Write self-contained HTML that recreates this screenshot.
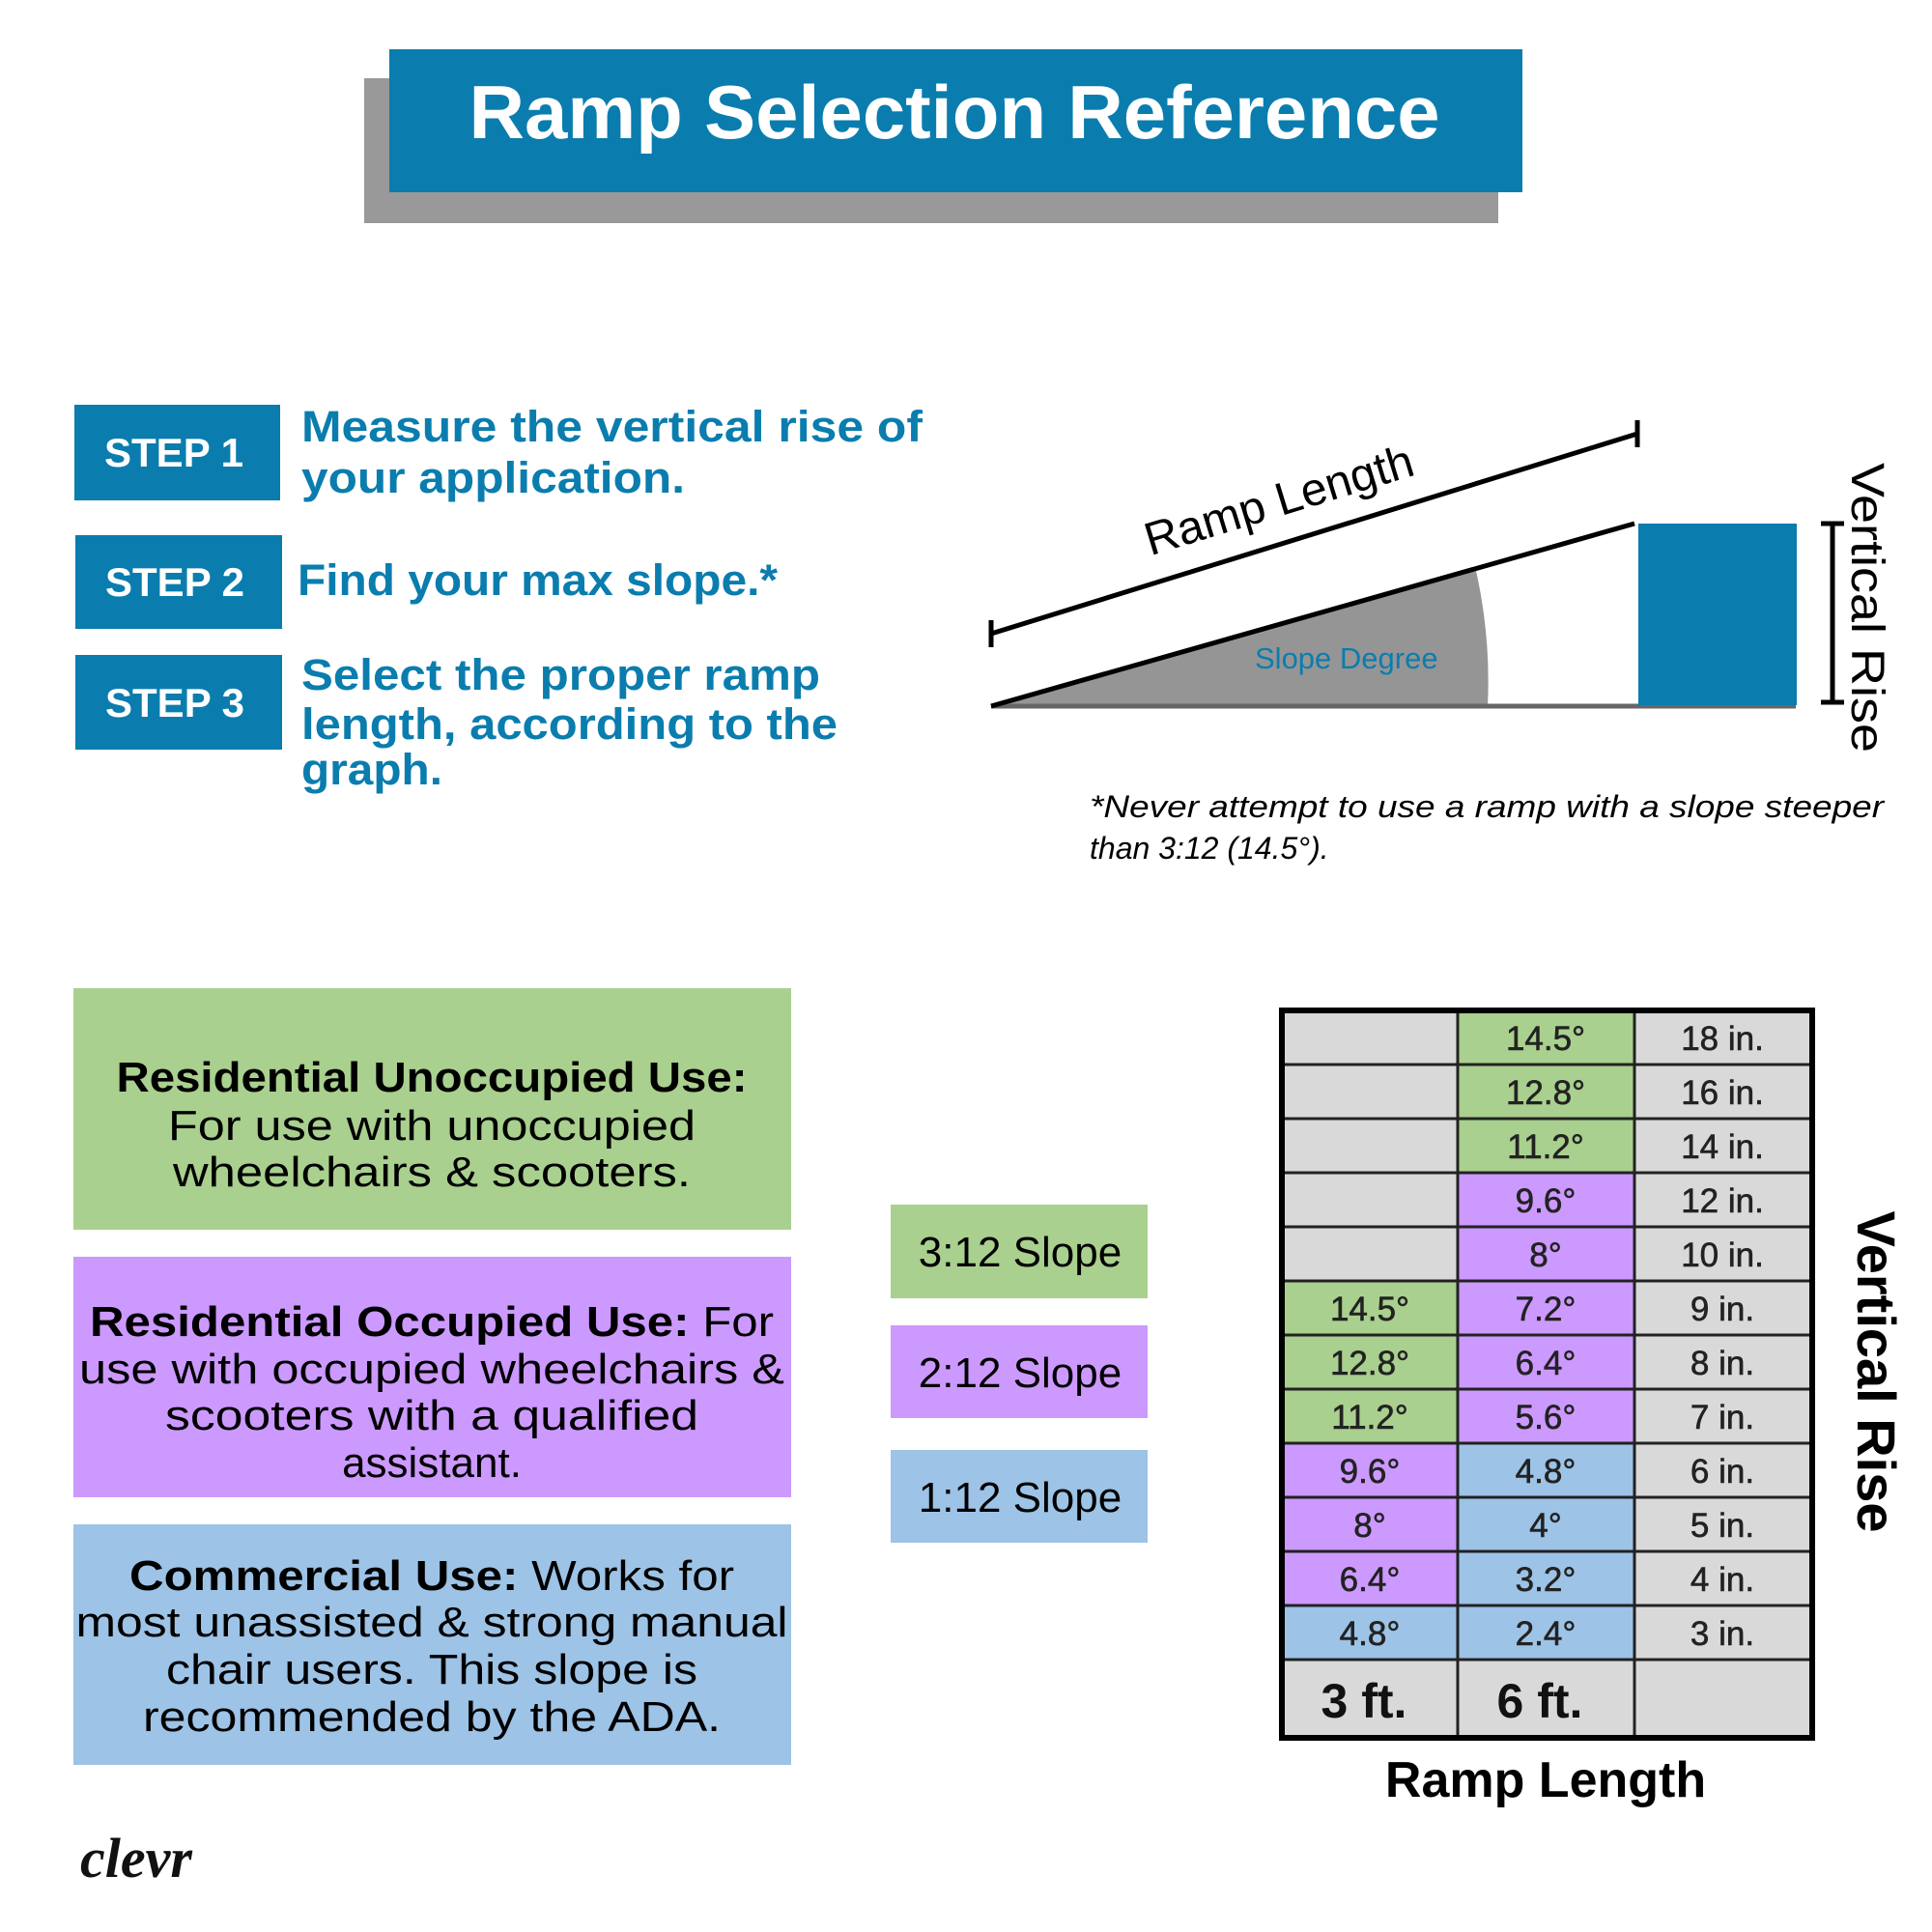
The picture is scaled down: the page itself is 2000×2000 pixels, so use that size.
<!DOCTYPE html>
<html><head><meta charset="utf-8"><style>
html,body{margin:0;padding:0;background:#fff;}
svg{display:block;}
text{font-family:"Liberation Sans",sans-serif;}
text.serif{font-family:"Liberation Serif",serif;}
</style></head><body>
<svg width="2000" height="2000" viewBox="0 0 2000 2000" xmlns="http://www.w3.org/2000/svg">
<rect width="2000" height="2000" fill="#fff"/>
<rect x="377" y="81" width="1174" height="150" fill="#999"/>
<rect x="403" y="51" width="1173" height="148" fill="#0a7dae"/>
<text x="988" y="143" font-size="78" font-weight="bold" fill="#fff" text-anchor="middle" textLength="1005" lengthAdjust="spacingAndGlyphs">Ramp Selection Reference</text>

<g fill="#0a7dae">
<rect x="77" y="419" width="213" height="99"/>
<rect x="78" y="554" width="214" height="97"/>
<rect x="78" y="678" width="214" height="98"/>
</g>
<g fill="#fff" font-size="42" font-weight="bold" text-anchor="middle">
<text x="180" y="483">STEP 1</text>
<text x="181" y="617">STEP 2</text>
<text x="181" y="742">STEP 3</text>
</g>
<g fill="#0a7dae" font-size="45" font-weight="bold">
<text x="312" y="457" textLength="643" lengthAdjust="spacingAndGlyphs">Measure the vertical rise of</text>
<text x="312" y="510" textLength="397" lengthAdjust="spacingAndGlyphs">your application.</text>
<text x="308" y="616" textLength="497" lengthAdjust="spacingAndGlyphs">Find your max slope.*</text>
<text x="312" y="714" textLength="537" lengthAdjust="spacingAndGlyphs">Select the proper ramp</text>
<text x="312" y="765" textLength="555" lengthAdjust="spacingAndGlyphs">length, according to the</text>
<text x="312" y="812" textLength="146" lengthAdjust="spacingAndGlyphs">graph.</text>
</g>

<path d="M1026,731 L1540,731 A523,523 0 0 0 1528,591 Z" fill="#959595"/>
<line x1="1026" y1="731" x2="1859" y2="731" stroke="#666" stroke-width="5"/>
<line x1="1026" y1="731" x2="1692" y2="542" stroke="#000" stroke-width="5"/>
<rect x="1696" y="542" width="164" height="188" fill="#0a7dae"/>
<line x1="1026" y1="656" x2="1695" y2="449" stroke="#000" stroke-width="5"/>
<line x1="1026" y1="642" x2="1026" y2="670" stroke="#000" stroke-width="5"/>
<line x1="1695" y1="435" x2="1695" y2="463" stroke="#000" stroke-width="5"/>
<text x="1324" y="534" font-size="48" text-anchor="middle" transform="rotate(-17 1324 518)">Ramp Length</text>
<text x="1299" y="692" font-size="31" fill="#0a7dae">Slope Degree</text>
<line x1="1897" y1="542" x2="1897" y2="727" stroke="#000" stroke-width="5"/>
<line x1="1885" y1="542" x2="1909" y2="542" stroke="#000" stroke-width="5"/>
<line x1="1885" y1="727" x2="1909" y2="727" stroke="#000" stroke-width="5"/>
<text x="1933" y="629" font-size="48" text-anchor="middle" transform="rotate(90 1933 629)" dy="16" textLength="300" lengthAdjust="spacingAndGlyphs">Vertical Rise</text>
<g font-size="32" font-style="italic">
<text x="1128" y="846" textLength="822" lengthAdjust="spacingAndGlyphs">*Never attempt to use a ramp with a slope steeper</text>
<text x="1128" y="889">than 3:12 (14.5°).</text>
</g>

<rect x="76" y="1023" width="743" height="250" fill="#a9d08e"/>
<rect x="76" y="1301" width="743" height="249" fill="#cc99ff"/>
<rect x="76" y="1578" width="743" height="249" fill="#9dc3e6"/>
<g font-size="44" text-anchor="middle" fill="#000">
<text x="447" y="1130" font-weight="bold" textLength="653" lengthAdjust="spacingAndGlyphs">Residential Unoccupied Use:</text>
<text x="447" y="1180" textLength="546" lengthAdjust="spacingAndGlyphs">For use with unoccupied</text>
<text x="447" y="1228" textLength="536" lengthAdjust="spacingAndGlyphs">wheelchairs &amp; scooters.</text>
<text x="447" y="1383" textLength="708" lengthAdjust="spacingAndGlyphs"><tspan font-weight="bold">Residential Occupied Use:</tspan> For</text>
<text x="447" y="1432" textLength="730" lengthAdjust="spacingAndGlyphs">use with occupied wheelchairs &amp;</text>
<text x="447" y="1480" textLength="552" lengthAdjust="spacingAndGlyphs">scooters with a qualified</text>
<text x="447" y="1529">assistant.</text>
<text x="447" y="1646" textLength="626" lengthAdjust="spacingAndGlyphs"><tspan font-weight="bold">Commercial Use:</tspan> Works for</text>
<text x="447" y="1694" textLength="737" lengthAdjust="spacingAndGlyphs">most unassisted &amp; strong manual</text>
<text x="447" y="1743" textLength="550" lengthAdjust="spacingAndGlyphs">chair users. This slope is</text>
<text x="447" y="1792" textLength="598" lengthAdjust="spacingAndGlyphs">recommended by the ADA.</text>
</g>

<rect x="922" y="1247" width="266" height="97" fill="#a9d08e"/>
<rect x="922" y="1372" width="266" height="96" fill="#cc99ff"/>
<rect x="922" y="1501" width="266" height="96" fill="#9dc3e6"/>
<g font-size="44" text-anchor="middle">
<text x="1056" y="1311">3:12 Slope</text>
<text x="1056" y="1436">2:12 Slope</text>
<text x="1056" y="1565">1:12 Slope</text>
</g>

<g stroke="#222" stroke-width="3">
<rect x="1327" y="1046" width="182" height="56" fill="#d9d9d9"/>
<rect x="1327" y="1102" width="182" height="56" fill="#d9d9d9"/>
<rect x="1327" y="1158" width="182" height="56" fill="#d9d9d9"/>
<rect x="1327" y="1214" width="182" height="56" fill="#d9d9d9"/>
<rect x="1327" y="1270" width="182" height="56" fill="#d9d9d9"/>
<rect x="1327" y="1326" width="182" height="56" fill="#a9d08e"/>
<rect x="1327" y="1382" width="182" height="56" fill="#a9d08e"/>
<rect x="1327" y="1438" width="182" height="56" fill="#a9d08e"/>
<rect x="1327" y="1494" width="182" height="56" fill="#cc99ff"/>
<rect x="1327" y="1550" width="182" height="56" fill="#cc99ff"/>
<rect x="1327" y="1606" width="182" height="56" fill="#cc99ff"/>
<rect x="1327" y="1662" width="182" height="56" fill="#9dc3e6"/>
<rect x="1327" y="1718" width="182" height="81" fill="#d9d9d9"/>
<rect x="1509" y="1046" width="183" height="56" fill="#a9d08e"/>
<rect x="1509" y="1102" width="183" height="56" fill="#a9d08e"/>
<rect x="1509" y="1158" width="183" height="56" fill="#a9d08e"/>
<rect x="1509" y="1214" width="183" height="56" fill="#cc99ff"/>
<rect x="1509" y="1270" width="183" height="56" fill="#cc99ff"/>
<rect x="1509" y="1326" width="183" height="56" fill="#cc99ff"/>
<rect x="1509" y="1382" width="183" height="56" fill="#cc99ff"/>
<rect x="1509" y="1438" width="183" height="56" fill="#cc99ff"/>
<rect x="1509" y="1494" width="183" height="56" fill="#9dc3e6"/>
<rect x="1509" y="1550" width="183" height="56" fill="#9dc3e6"/>
<rect x="1509" y="1606" width="183" height="56" fill="#9dc3e6"/>
<rect x="1509" y="1662" width="183" height="56" fill="#9dc3e6"/>
<rect x="1509" y="1718" width="183" height="81" fill="#d9d9d9"/>
<rect x="1692" y="1046" width="184" height="56" fill="#d9d9d9"/>
<rect x="1692" y="1102" width="184" height="56" fill="#d9d9d9"/>
<rect x="1692" y="1158" width="184" height="56" fill="#d9d9d9"/>
<rect x="1692" y="1214" width="184" height="56" fill="#d9d9d9"/>
<rect x="1692" y="1270" width="184" height="56" fill="#d9d9d9"/>
<rect x="1692" y="1326" width="184" height="56" fill="#d9d9d9"/>
<rect x="1692" y="1382" width="184" height="56" fill="#d9d9d9"/>
<rect x="1692" y="1438" width="184" height="56" fill="#d9d9d9"/>
<rect x="1692" y="1494" width="184" height="56" fill="#d9d9d9"/>
<rect x="1692" y="1550" width="184" height="56" fill="#d9d9d9"/>
<rect x="1692" y="1606" width="184" height="56" fill="#d9d9d9"/>
<rect x="1692" y="1662" width="184" height="56" fill="#d9d9d9"/>
<rect x="1692" y="1718" width="184" height="81" fill="#d9d9d9"/>
</g>
<rect x="1327" y="1046" width="549" height="753" fill="none" stroke="#000" stroke-width="6"/>
<g font-size="35" text-anchor="middle" fill="#222" stroke="#222" stroke-width="0.6">
<text x="1600" y="1087">14.5°</text><text x="1783" y="1087">18 in.</text>
<text x="1600" y="1143">12.8°</text><text x="1783" y="1143">16 in.</text>
<text x="1600" y="1199">11.2°</text><text x="1783" y="1199">14 in.</text>
<text x="1600" y="1255">9.6°</text><text x="1783" y="1255">12 in.</text>
<text x="1600" y="1311">8°</text><text x="1783" y="1311">10 in.</text>
<text x="1418" y="1367">14.5°</text><text x="1600" y="1367">7.2°</text><text x="1783" y="1367">9 in.</text>
<text x="1418" y="1423">12.8°</text><text x="1600" y="1423">6.4°</text><text x="1783" y="1423">8 in.</text>
<text x="1418" y="1479">11.2°</text><text x="1600" y="1479">5.6°</text><text x="1783" y="1479">7 in.</text>
<text x="1418" y="1535">9.6°</text><text x="1600" y="1535">4.8°</text><text x="1783" y="1535">6 in.</text>
<text x="1418" y="1591">8°</text><text x="1600" y="1591">4°</text><text x="1783" y="1591">5 in.</text>
<text x="1418" y="1647">6.4°</text><text x="1600" y="1647">3.2°</text><text x="1783" y="1647">4 in.</text>
<text x="1418" y="1703">4.8°</text><text x="1600" y="1703">2.4°</text><text x="1783" y="1703">3 in.</text>
</g>
<g font-size="50" font-weight="bold" text-anchor="middle" fill="#111">
<text x="1412" y="1778">3 ft.</text>
<text x="1594" y="1778">6 ft.</text>
</g>
<text x="1600" y="1860" font-size="52" font-weight="bold" text-anchor="middle">Ramp Length</text>
<text x="1942" y="1420" font-size="56" font-weight="bold" text-anchor="middle" dy="19" transform="rotate(90 1942 1420)" textLength="333" lengthAdjust="spacingAndGlyphs">Vertical Rise</text>

<text class="serif" x="83" y="1943" font-size="58" font-style="italic" font-weight="bold" fill="#111">clevr</text>
</svg>
</body></html>
